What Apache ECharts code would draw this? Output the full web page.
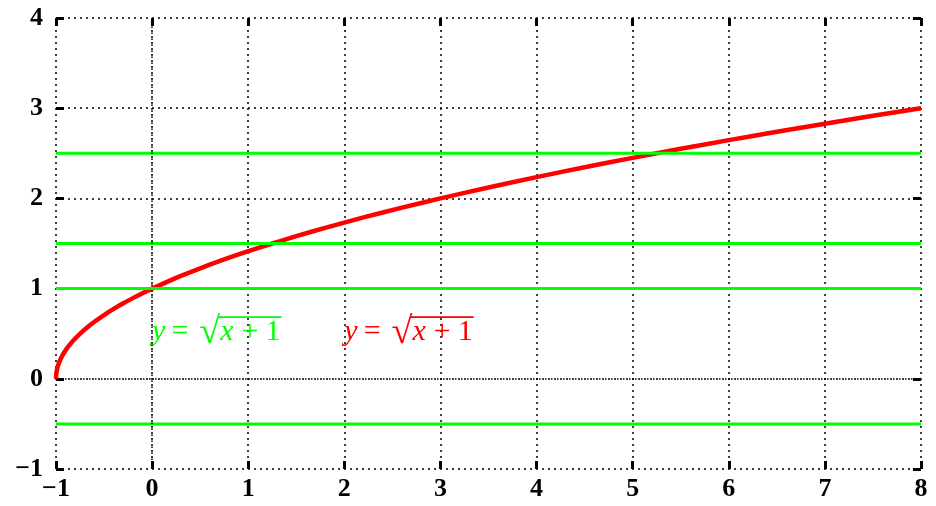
<!DOCTYPE html>
<html>
<head>
<meta charset="utf-8">
<script src="https://cdn.jsdelivr.net/npm/echarts@6/dist/echarts.min.js"></script>
<style>
  html, body { margin: 0; padding: 0; background: #ffffff; }
  #chart { width: 936px; height: 506px; }
</style>
</head>
<body>
<div id="chart"></div>
<script>
// Axis ranges and tick spacing
const xRange = [-1, 8];
const yRange = [-1, 4];
const tickStep = 1;

// Sample abscissas for the curve y = sqrt(x + 1) (denser near x = -1 where it is steep)
const curveX = [
  -1, -0.9998, -0.999, -0.997, -0.994, -0.99, -0.985, -0.975, -0.96, -0.94,
  -0.92, -0.89, -0.85, -0.8, -0.74, -0.67, -0.6, -0.5, -0.4, -0.3, -0.2, -0.1,
  0, 0.15, 0.3, 0.5, 0.7, 0.9, 1.2, 1.5, 1.8, 2.2, 2.6, 3, 3.5, 4, 4.5, 5,
  5.5, 6, 6.5, 7, 7.5, 8
];

// Horizontal reference levels
const greenLevels = [2.5, 1.5, 1, -0.5];

// Formula labels: anchor point (data coords) and colour
const formulaLabels = [
  { x: 0, y: 0.5, color: '#00ff00' },
  { x: 2, y: 0.5, color: '#ff0000' }
];

// The curve is the function stated in its label
const curveData = curveX.map(x => [x, Math.sqrt(x + 1)]);

const tickFont = { fontFamily: '"Liberation Serif", serif', fontWeight: 'bold', fontSize: 26, color: '#000' };
const minusFmt = v => String(v).replace('-', '\u2212');

const tickStyle = { show: true, inside: true, length: 8, lineStyle: { color: '#000', width: 3 } };
const gridStyle = { show: true, lineStyle: { color: '#000', width: 1.5, type: [2, 4] } };

function xAxisDef(pos, labels) {
  return {
    type: 'value', position: pos, min: xRange[0], max: xRange[1], interval: tickStep,
    axisLine: { show: false, onZero: false }, axisTick: tickStyle,
    axisLabel: Object.assign({ show: labels, margin: 7, formatter: minusFmt }, tickFont),
    splitLine: pos === 'bottom' ? gridStyle : { show: false }
  };
}
function yAxisDef(pos, labels) {
  return {
    type: 'value', position: pos, min: yRange[0], max: yRange[1], interval: tickStep,
    axisLine: { show: false, onZero: false }, axisTick: tickStyle,
    axisLabel: Object.assign({ show: labels, margin: 13, formatter: minusFmt }, tickFont),
    splitLine: pos === 'left' ? gridStyle : { show: false }
  };
}

const series = [
  {
    type: 'line', name: 'zero axes', data: [], silent: true,
    markLine: {
      symbol: 'none', silent: true, label: { show: false },
      lineStyle: { color: '#000', width: 1.5, type: [1.5, 4.5], dashOffset: 3 },
      data: [{ xAxis: 0 }, { yAxis: 0 }]
    }
  },
  {
    type: 'line', name: 'sqrt', data: curveData, smooth: 0.3, showSymbol: false,
    lineStyle: { color: '#ff0000', width: 4.5 }, z: 3
  }
].concat(greenLevels.map(v => ({
  type: 'line', data: [[xRange[0], v], [xRange[1], v]], showSymbol: false,
  lineStyle: { color: '#00ff00', width: 3 }, z: 4
})));

const chart = echarts.init(document.getElementById('chart'));
chart.setOption({
  animation: false,
  backgroundColor: '#ffffff',
  grid: { left: 56, right: 15, top: 18, bottom: 37 },
  xAxis: [xAxisDef('bottom', true), xAxisDef('top', false)],
  yAxis: [yAxisDef('left', true), yAxisDef('right', false)],
  series: series
});

// Draw the formula labels "y = √(x + 1)" as text runs with a vinculum
const measureCtx = document.createElement('canvas').getContext('2d');
const fs = 30;
const upright = fs + 'px "Liberation Serif", serif';
const italic = 'italic ' + fs + 'px "Liberation Serif", serif';
const radical = '38px "Liberation Serif", serif';
function textWidth(t, font) { measureCtx.font = font; return measureCtx.measureText(t).width; }

const graphics = [];
formulaLabels.forEach(lab => {
  const p = chart.convertToPixel({ gridIndex: 0 }, [lab.x, lab.y]);
  // each run: text, font, gap before it, vertical shift
  const runs = [
    { t: 'y', f: italic, gap: 0, dy: 0 },
    { t: '=', f: upright, gap: 6, dy: 0 },
    { t: '\u221a', f: radical, gap: 11, dy: 1.4 },
    { t: 'x', f: italic, gap: 0, dy: 0 },
    { t: '+', f: upright, gap: 8, dy: 0 },
    { t: '1', f: upright, gap: 7, dy: 0 }
  ];
  let cx = p[0];
  const mid = p[1] - 2;
  let barStart = 0;
  runs.forEach((r, i) => {
    cx += r.gap;
    graphics.push({
      type: 'text', silent: true,
      style: { text: r.t, x: cx, y: mid + r.dy, font: r.f, fill: lab.color, align: 'left', verticalAlign: 'middle' }
    });
    cx += textWidth(r.t, r.f);
    if (i === 2) barStart = cx - 1.5;
  });
  graphics.push({
    type: 'line', silent: true,
    shape: { x1: barStart, y1: p[1] - 16.5, x2: cx + 1, y2: p[1] - 16.5 },
    style: { stroke: lab.color, lineWidth: 1.8 }
  });
});
chart.setOption({ graphic: graphics });
</script>
</body>
</html>
